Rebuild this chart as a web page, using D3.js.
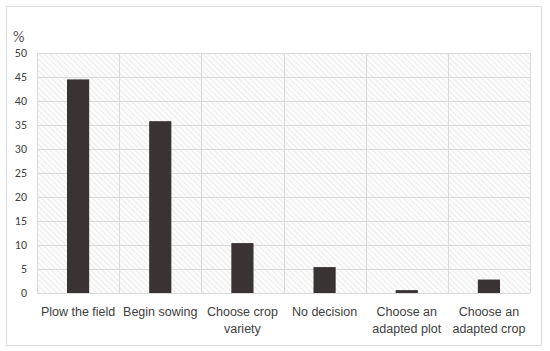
<!DOCTYPE html>
<html>
<head>
<meta charset="utf-8">
<script src="https://cdn.jsdelivr.net/npm/d3@7"></script>
<style>
  body { margin: 0; background: #fff; }
  svg { display: block; font-family: Carlito, 'Open Sans', sans-serif; }
</style>
</head>
<body>
<div id="chart"></div>
<script>
const categories = [
  ['Plow the field'],
  ['Begin sowing'],
  ['Choose crop', 'variety'],
  ['No decision'],
  ['Choose an', 'adapted plot'],
  ['Choose an', 'adapted crop']
]
const values = [44.5, 35.8, 10.4, 5.4, 0.6, 2.8]
const yTicks = [0, 5, 10, 15, 20, 25, 30, 35, 40, 45, 50]

const dms = {
  width: 550,
  height: 351,
  margin: { top: 53, right: 20, bottom: 58, left: 37 }
}
dms.contentWidth = dms.width - dms.margin.left - dms.margin.right
dms.contentHeight = dms.height - dms.margin.top - dms.margin.bottom

const svg = d3.select('#chart').append('svg')
  .attr('width', dms.width)
  .attr('height', dms.height)

const defs = svg.append('defs')
const pat = defs.append('pattern')
  .attr('id', 'hatch')
  .attr('patternUnits', 'userSpaceOnUse')
  .attr('width', 4)
  .attr('height', 4)
  .attr('patternTransform', 'rotate(-45)')
pat.append('rect').attr('width', 4).attr('height', 4).attr('fill', '#fcfcfc')
pat.append('line')
  .attr('x1', 0).attr('y1', 0).attr('x2', 0).attr('y2', 4)
  .attr('stroke', '#e4e4e4').attr('stroke-width', 1.4)

// outer frame
svg.append('rect')
  .attr('x', 6.5).attr('y', 6.5)
  .attr('width', 535).attr('height', 339)
  .attr('fill', '#fff')
  .attr('stroke', '#dcdcdc')

const content = svg.append('g')
  .attr('transform', `translate(${dms.margin.left},${dms.margin.top})`)

const xScale = d3.scaleBand()
  .domain(d3.range(categories.length))
  .range([0, dms.contentWidth])
  .paddingInner(0.73)
  .paddingOuter(0.365)

const yScale = d3.scaleLinear()
  .domain([0, 50])
  .range([dms.contentHeight, 0])

content.append('rect')
  .attr('width', dms.contentWidth)
  .attr('height', dms.contentHeight)
  .attr('fill', 'url(#hatch)')

// horizontal grid
content.append('g')
  .selectAll('line')
  .data(yTicks)
  .join('line')
  .attr('x1', 0)
  .attr('x2', dms.contentWidth)
  .attr('y1', d => Math.round(yScale(d)) + 0.5)
  .attr('y2', d => Math.round(yScale(d)) + 0.5)
  .attr('stroke', '#d9d9d9')

// vertical grid at band edges
const step = xScale.step()
content.append('g')
  .selectAll('line')
  .data(d3.range(categories.length + 1))
  .join('line')
  .attr('x1', i => Math.round(i * step) + 0.5)
  .attr('x2', i => Math.round(i * step) + 0.5)
  .attr('y1', 0)
  .attr('y2', dms.contentHeight)
  .attr('stroke', '#d9d9d9')

content.append('g')
  .selectAll('rect')
  .data(values)
  .join('rect')
  .attr('x', (d, i) => xScale(i))
  .attr('width', xScale.bandwidth())
  .attr('y', d => yScale(d))
  .attr('height', d => dms.contentHeight - yScale(d))
  .attr('fill', '#393433')

const yAxis = content.append('g')
  .call(d3.axisLeft(yScale).tickValues(yTicks).tickSize(0).tickPadding(10))
yAxis.select('.domain').remove()
yAxis.selectAll('text')
  .attr('fill', '#404040')
  .style('font-size', '12px')
  .style('font-family', "Carlito, 'Open Sans', sans-serif")

const xAxis = content.append('g')
  .attr('transform', `translate(0,${dms.contentHeight})`)
  .call(d3.axisBottom(xScale).tickSize(0).tickFormat(''))
xAxis.select('.domain').remove()
xAxis.selectAll('.tick').each(function (i) {
  const t = d3.select(this).append('text')
    .attr('fill', '#404040')
    .attr('text-anchor', 'middle')
    .style('font-size', '12.5px')
  categories[i].forEach((line, k) => {
    t.append('tspan')
      .attr('x', 0)
      .attr('y', 23 + k * 17)
      .text(line)
  })
})

svg.append('text')
  .attr('x', 13)
  .attr('y', 42)
  .attr('fill', '#595959')
  .style('font-size', '16px')
  .text('%')
</script>
</body>
</html>
